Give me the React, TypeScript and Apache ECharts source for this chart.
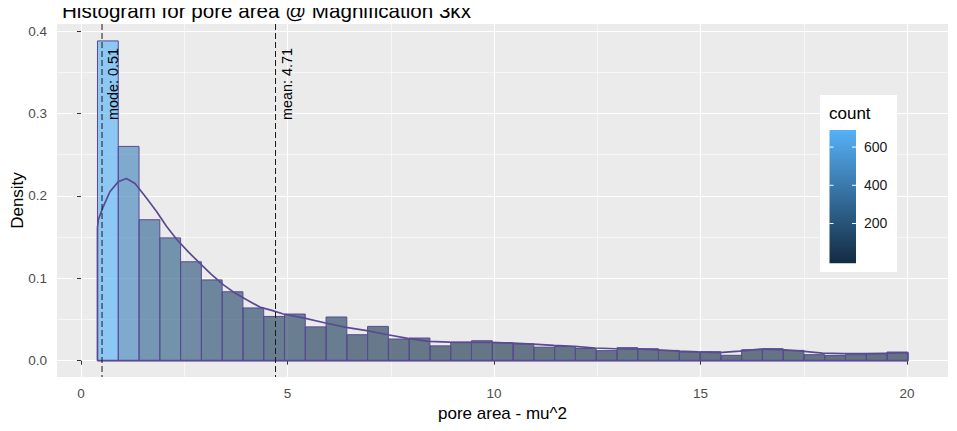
import React, { useEffect, useRef } from 'react';
import * as echarts from 'echarts';

const FONT = '"Liberation Sans", Arial, sans-serif';

const TITLE = 'Histogram for pore area @ Magnification 3kx';
const X_NAME = 'pore area - mu^2';
const Y_NAME = 'Density';

const X_TICKS = [0, 5, 10, 15, 20];
const X_MINOR = [2.5, 7.5, 12.5, 17.5];
const Y_TICKS = [0, 0.1, 0.2, 0.3, 0.4];
const Y_MINOR = [0.05, 0.15, 0.25, 0.35];
const X_MIN = -0.58;
const X_MAX = 20.99;
const Y_MIN = -0.0198;
const Y_MAX = 0.4085;

// histogram bins
const BIN_START = 0.4;
const BIN_WIDTH = 0.503;
const DENSITY = [
  0.388, 0.26, 0.171, 0.149, 0.12, 0.098, 0.0836, 0.064, 0.0537, 0.0566,
  0.041, 0.053, 0.0315, 0.0416, 0.0263, 0.0275, 0.018, 0.0224, 0.0242, 0.0218,
  0.0204, 0.0164, 0.0172, 0.0148, 0.0122, 0.0158, 0.0145, 0.0125, 0.0102, 0.0109,
  0.0065, 0.0133, 0.0145, 0.0125, 0.0073, 0.0062, 0.0073, 0.008, 0.0105,
];
// count = density * N * binwidth
const COUNT_PER_DENSITY = 1732;

// density curve (closed polygon outline)
const DENS_X = [
  0.4, 0.4, 0.42, 0.54, 0.7, 0.9, 1.1, 1.31, 1.59, 1.83, 2.07, 2.32, 2.6, 2.88, 3.15, 3.45,
  3.73, 4.01, 4.33, 4.62, 4.9, 5.41, 5.92, 6.42, 6.92, 7.43, 7.91, 8.42, 8.93, 9.45, 9.95,
  10.45, 10.95, 11.45, 11.95, 12.45, 12.95, 13.45, 13.95, 14.45, 14.95, 15.45, 15.95, 16.45,
  16.95, 17.45, 17.95, 18.45, 18.95, 19.45, 20.02, 20.02, 0.4,
];
const DENS_Y = [
  0, 0.161, 0.171, 0.187, 0.205, 0.217, 0.221, 0.215, 0.197, 0.181, 0.163, 0.147, 0.132, 0.118,
  0.105, 0.092, 0.082, 0.074, 0.065, 0.061, 0.0566, 0.0517, 0.0457, 0.0404, 0.0364, 0.0315,
  0.027, 0.0234, 0.0224, 0.0222, 0.0222, 0.0212, 0.0202, 0.0185, 0.0174, 0.0154, 0.0145,
  0.0142, 0.013, 0.0115, 0.0106, 0.0098, 0.0115, 0.014, 0.0135, 0.0115, 0.0092, 0.0085,
  0.0085, 0.009, 0.0096, 0, 0,
];

const VLINE_X = [0.51, 4.71];
const VLINE_LABELS = ['mode: 0.51', 'mean: 4.71'];
const VLABEL_Y = 0.292;

const LEGEND_TITLE = 'count';
const LEGEND_TICKS = [200, 400, 600];
const COUNT_MIN = 9;
const COUNT_MAX = 672;

const LOW = [19, 43, 67];
const HIGH = [86, 177, 247];
const OUTLINE = '#5A4A94';
const BAR_ALPHA = 0.63;

function mix(t: number) {
  return LOW.map((l, i) => Math.round(l + (HIGH[i] - l) * t));
}
function fillFor(d: number) {
  const count = d * COUNT_PER_DENSITY;
  const t = Math.max(0, Math.min(1, (count - COUNT_MIN) / (COUNT_MAX - COUNT_MIN)));
  const c = mix(t);
  return `rgba(${c[0]},${c[1]},${c[2]},${BAR_ALPHA})`;
}

export default function App() {
  const ref = useRef<HTMLDivElement>(null);
  useEffect(() => {
    if (!ref.current) return;
    const chart = echarts.init(ref.current, undefined, { renderer: 'svg' });

    const barData = DENSITY.map((d, i) => [
      BIN_START + i * BIN_WIDTH,
      BIN_START + (i + 1) * BIN_WIDTH,
      d,
    ]);
    const densData = DENS_X.map((x, i) => [x, DENS_Y[i]]);
    const vlineData = VLINE_X.map((x) => [x, VLABEL_Y]);

    // legend geometry
    const LB = { x: 820, y: 95, w: 77, h: 177 };
    const BAR = { x: 829.5, y: 130, w: 26.5, h: 133.3 };
    const inset = BAR.h * 0.025;
    const tickY = (v: number) =>
      BAR.y + BAR.h - inset - ((v - COUNT_MIN) / (COUNT_MAX - COUNT_MIN)) * (BAR.h - 2 * inset);
    const Z = 100;
    const graphicEls: any[] = [
      {
        type: 'text', z: Z, x: 17, y: 200.5, rotation: Math.PI / 2,
        style: { text: Y_NAME, fontSize: 17, fontFamily: FONT, fill: '#000', align: 'center', verticalAlign: 'middle' },
      },
      { type: 'rect', z: Z, shape: { x: LB.x, y: LB.y, width: LB.w, height: LB.h }, style: { fill: '#fff' }, silent: true },
      {
        type: 'text', z: Z + 1, x: 829, y: 113,
        style: { text: LEGEND_TITLE, fontSize: 17, fontFamily: FONT, fill: '#000', verticalAlign: 'middle', align: 'left' },
      },
      {
        type: 'rect', z: Z + 1, shape: { x: BAR.x, y: BAR.y, width: BAR.w, height: BAR.h },
        style: {
          fill: new echarts.graphic.LinearGradient(0, 0, 0, 1, [
            { offset: 0, color: `rgb(${HIGH.join(',')})` },
            { offset: 1, color: `rgb(${LOW.join(',')})` },
          ]),
        },
      },
    ];
    LEGEND_TICKS.forEach((v) => {
      const y = tickY(v);
      graphicEls.push(
        { type: 'line', z: Z + 2, shape: { x1: BAR.x, y1: y, x2: BAR.x + 4, y2: y }, style: { stroke: '#fff', lineWidth: 1 } },
        { type: 'line', z: Z + 2, shape: { x1: BAR.x + BAR.w - 4, y1: y, x2: BAR.x + BAR.w, y2: y }, style: { stroke: '#fff', lineWidth: 1 } },
        {
          type: 'text', z: Z + 2, x: 864, y,
          style: { text: String(v), fontSize: 14, fontFamily: FONT, fill: '#1A1A1A', verticalAlign: 'middle', align: 'left' },
        }
      );
    });

    const option: any = {
      animation: false,
      backgroundColor: '#fff',
      title: {
        text: TITLE,
        left: 57,
        top: -5,
        textStyle: { fontSize: 20.6, fontWeight: 'normal', color: '#000', fontFamily: FONT },
      },
      grid: {
        left: 57, right: 9, top: 24, bottom: 54,
        show: true, backgroundColor: '#EBEBEB', borderWidth: 0,
        containLabel: false,
        outerBoundsMode: 'none',
      },
      xAxis: [
        {
          type: 'value', min: X_MIN, max: X_MAX, position: 'bottom',
          name: X_NAME, nameLocation: 'middle', nameGap: 24,
          nameTextStyle: { color: '#000', fontSize: 17, fontFamily: FONT },
          axisLine: { show: false },
          axisTick: { show: true, length: 4, lineStyle: { color: '#333', width: 1 }, customValues: X_TICKS },
          axisLabel: { customValues: X_TICKS, color: '#4D4D4D', fontSize: 13.5, margin: 9, fontFamily: FONT, formatter: (v: number) => String(v) },
          splitLine: { show: true, lineStyle: { color: '#fff', width: 1.1 } },
        },
        {
          type: 'value', min: X_MIN, max: X_MAX, position: 'bottom',
          axisLine: { show: false },
          axisTick: { show: false, customValues: X_MINOR },
          axisLabel: { show: false, customValues: X_MINOR },
          splitLine: { show: true, lineStyle: { color: '#fff', width: 0.55 } },
        },
      ],
      yAxis: [
        {
          type: 'value', min: Y_MIN, max: Y_MAX, position: 'left',
          axisLine: { show: false },
          axisTick: { show: true, length: 4, lineStyle: { color: '#333', width: 1 }, customValues: Y_TICKS },
          axisLabel: { customValues: Y_TICKS, color: '#4D4D4D', fontSize: 13.5, margin: 10, fontFamily: FONT, formatter: (v: number) => v.toFixed(1) },
          splitLine: { show: true, lineStyle: { color: '#fff', width: 1.1 } },
        },
        {
          type: 'value', min: Y_MIN, max: Y_MAX, position: 'left',
          axisLine: { show: false },
          axisTick: { show: false, customValues: Y_MINOR },
          axisLabel: { show: false, customValues: Y_MINOR },
          splitLine: { show: true, lineStyle: { color: '#fff', width: 0.55 } },
        },
      ],
      series: [
        {
          type: 'custom',
          xAxisIndex: 0, yAxisIndex: 0,
          data: barData,
          encode: { x: [0, 1], y: 2 },
          silent: true,
          renderItem: (params: any, api: any) => {
            const p0 = api.coord([api.value(0), api.value(2)]);
            const p1 = api.coord([api.value(1), 0]);
            return {
              type: 'rect',
              shape: { x: p0[0], y: p0[1], width: p1[0] - p0[0], height: p1[1] - p0[1] },
              style: { fill: fillFor(api.value(2)), stroke: OUTLINE, lineWidth: 1 },
            };
          },
        },
        {
          type: 'line',
          xAxisIndex: 0, yAxisIndex: 0,
          data: densData,
          showSymbol: false,
          symbol: 'none',
          silent: true,
          lineStyle: { color: OUTLINE, width: 1.7 },
          z: 3,
        },
        {
          type: 'custom',
          xAxisIndex: 0, yAxisIndex: 0,
          data: vlineData,
          encode: { x: 0, y: 1 },
          silent: true,
          z: 4,
          renderItem: (params: any, api: any) => {
            const x = api.value(0);
            const top = api.coord([x, Y_MAX]);
            const bot = api.coord([x, Y_MIN]);
            const anchor = api.coord([x, api.value(1)]);
            return {
              type: 'group',
              children: [
                {
                  type: 'line',
                  shape: { x1: top[0], y1: top[1], x2: bot[0], y2: bot[1] },
                  style: { stroke: '#1A1A1A', lineWidth: 1, lineDash: [6, 3] },
                },
                {
                  type: 'text',
                  x: anchor[0] + 4,
                  y: anchor[1],
                  rotation: Math.PI / 2,
                  style: {
                    text: VLINE_LABELS[params.dataIndex],
                    fontSize: 14.4, fontFamily: FONT, fill: '#000',
                    align: 'left', verticalAlign: 'top',
                  },
                },
              ],
            };
          },
        },
      ],
      graphic: graphicEls,
    };
    chart.setOption(option);
    return () => chart.dispose();
  }, []);
  return <div ref={ref} style={{ width: 957, height: 431, marginLeft: -8, marginTop: -8 }} />;
}
